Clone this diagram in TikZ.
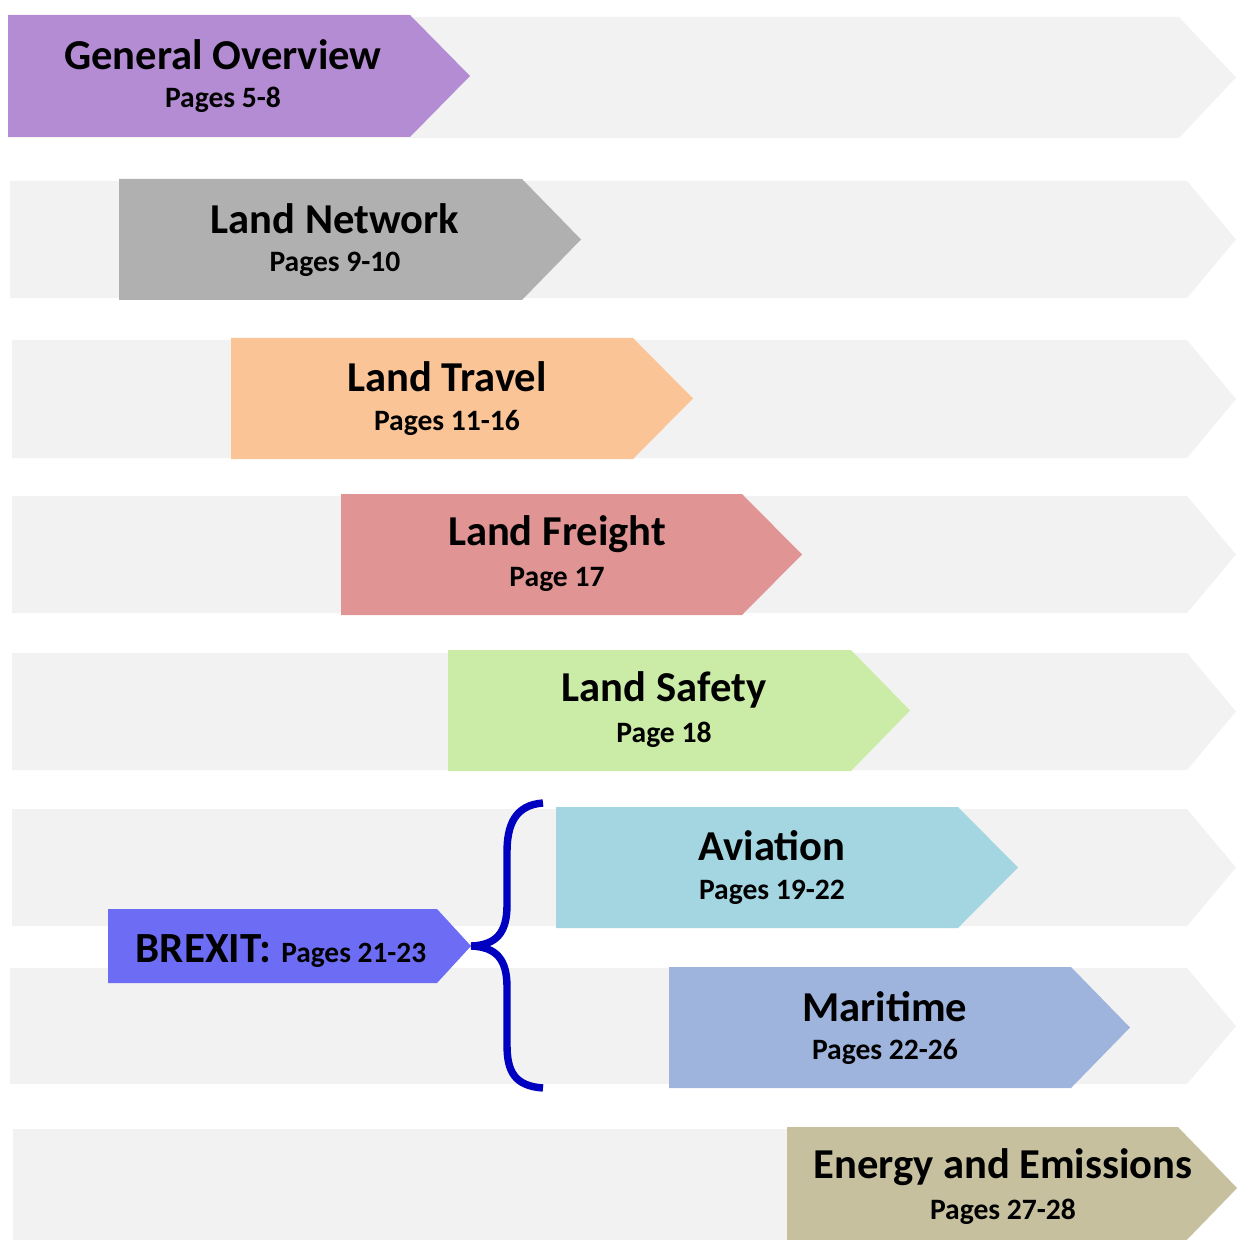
\documentclass[tikz,border=0pt]{standalone}
\usepackage{fontspec}
\setmainfont{Carlito}
\definecolor{bgarrow}{RGB}{242,242,242}
\definecolor{cpurple}{RGB}{180,140,212}
\definecolor{cgray}{RGB}{176,176,176}
\definecolor{corange}{RGB}{250,196,150}
\definecolor{cred}{RGB}{224,148,148}
\definecolor{cgreen}{RGB}{202,236,166}
\definecolor{caviation}{RGB}{164,214,226}
\definecolor{cmaritime}{RGB}{158,180,220}
\definecolor{cbrexit}{RGB}{108,108,245}
\definecolor{cenergy}{RGB}{198,192,158}
\definecolor{bracecol}{RGB}{0,0,192}
\tikzset{
  titletext/.style={font=\fontsize{21.3}{23}\selectfont\bfseries, text=black, inner sep=0pt},
  subtext/.style={font=\fontsize{14.8}{16}\selectfont\bfseries, text=black, inner sep=0pt},
}
% #1 colour, #2 left x, #3 top y, #4 bottom y, #5 shoulder x, #6 tip x
\newcommand{\chevron}[6]{%
  \fill[#1] (#2,#3) -- (#5,#3) -- (#6,{(#3+#4)/2}) -- (#5,#4) -- (#2,#4) -- cycle;}
\begin{document}
\begin{tikzpicture}[x=0.5pt,y=-0.5pt]
\useasboundingbox (0,0) rectangle (1236,1240);
% background grey arrows
\chevron{bgarrow}{8}{17}{138}{1179}{1236}
\chevron{bgarrow}{10}{181}{298}{1187}{1236}
\chevron{bgarrow}{12}{340}{458}{1187}{1236}
\chevron{bgarrow}{12}{496}{613}{1187}{1236}
\chevron{bgarrow}{12}{653}{770}{1187}{1236}
\chevron{bgarrow}{12}{809}{926}{1187}{1236}
\chevron{bgarrow}{10}{968}{1084}{1187}{1236}
\chevron{bgarrow}{13}{1129}{1250}{1177}{1236}
% coloured arrows
\chevron{cpurple}{8}{15}{137}{410}{470}
\chevron{cgray}{119}{179}{300}{522}{581}
\chevron{corange}{231}{338}{459}{633}{693}
\chevron{cred}{341}{494}{615}{742}{802}
\chevron{cgreen}{448}{650}{771}{851}{910}
\chevron{caviation}{556}{807}{928}{958}{1018}
\chevron{cmaritime}{669}{967}{1088}{1071}{1130}
\chevron{cenergy}{787}{1127}{1249}{1178}{1237}
\chevron{cbrexit}{108}{909}{983}{437}{471}
% texts
\node[titletext] (t1) at (223,55) {General Overview};
\node[subtext] (s1) at (223,100) {Pages 5-8};
\node[titletext] (t2) at (335,219) {Land Network};
\node[subtext] (s2) at (335,264) {Pages 9-10};
\node[titletext] (t3) at (447,377) {Land Travel};
\node[subtext] (s3) at (447,423) {Pages 11-16};
\node[titletext] (t4) at (557,534) {Land Freight};
\node[subtext] (s4) at (557,579) {Page 17};
\node[titletext] (t5) at (664,690) {Land Safety};
\node[subtext] (s5) at (664,735) {Page 18};
\node[titletext] (t6) at (772,846) {Aviation};
\node[subtext] (s6) at (772,892) {Pages 19-22};
\node[titletext] (t7) at (885,1007) {Maritime};
\node[subtext] (s7) at (885,1052) {Pages 22-26};
\node[titletext] (t8) at (1003,1167) {Energy and Emissions};
\node[subtext] (s8) at (1003,1212) {Pages 27-28};
\node[anchor=base, inner sep=0pt] (bx) at (281,962) {\fontsize{21.5}{23}\selectfont\bfseries BREXIT: \fontsize{14.7}{16}\selectfont Pages 21-23};
% brace
\coordinate (bt) at (543,803);
\coordinate (bm) at (471,946);
\coordinate (bb) at (543,1088);
\draw[bracecol, line width=3.7pt] (bt) .. controls (515,805) and (507,825) .. (507,852) -- (507,905) .. controls (507,932) and (497,945) .. (bm) .. controls (497,947) and (507,960) .. (507,987) -- (507,1045) .. controls (507,1072) and (515,1086) .. (bb);
\end{tikzpicture}
\end{document}
